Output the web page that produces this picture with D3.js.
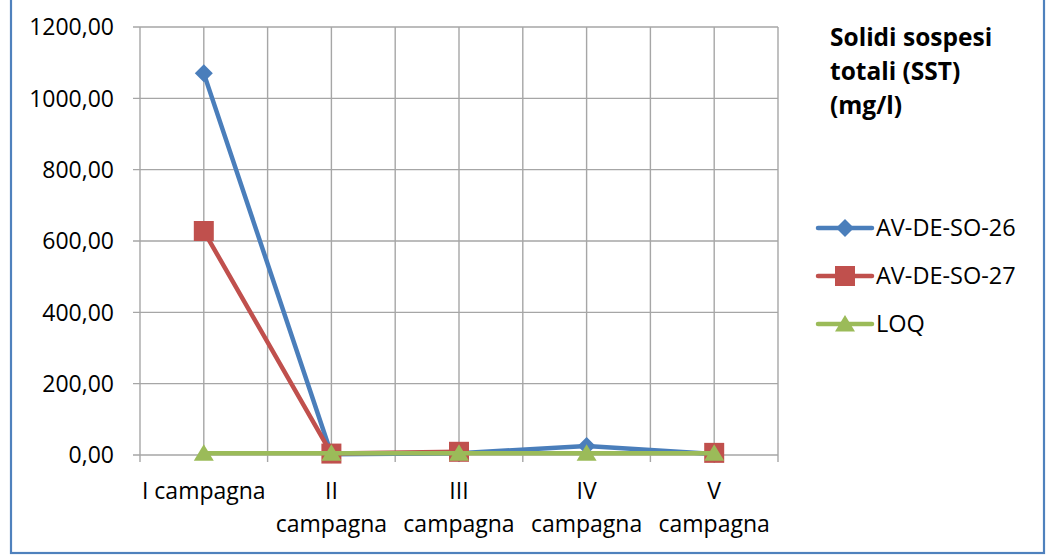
<!DOCTYPE html>
<html><head><meta charset="utf-8">
<script src="https://cdn.jsdelivr.net/npm/d3@7"></script>
<style>
html,body{margin:0;padding:0;background:#fff;}
svg{display:block;font-family:"Open Sans",sans-serif;}
</style></head>
<body>
<script>
const categories = ["I campagna", "II campagna", "III campagna", "IV campagna", "V campagna"];
const categoryLabelLines = [["I campagna"], ["II", "campagna"], ["III", "campagna"], ["IV", "campagna"], ["V", "campagna"]];
const seriesNames = ["AV-DE-SO-26", "AV-DE-SO-27", "LOQ"];
const so26 = [1070, 2, 5, 25, 3];
const so27 = [628, 4, 9, null, 6];
const loq = [5, 5, 5, 5, 5];
const yTicks = [0, 200, 400, 600, 800, 1000, 1200];
const titleLines = ["Solidi sospesi", "totali (SST)", "(mg/l)"];

const W = 1056, H = 556;
const colors = ["#4A7EBB", "#C0504D", "#9BBB59"];

// marker shapes
const markerPath = s => {
  if (s === 0) return "M0,-9L9,0L0,9L-9,0Z";            // diamond
  if (s === 1) return "M-10,-10H10V10H-10Z";            // square
  return "M0,-9L10,7.5L-10,7.5Z";                       // triangle
};

const svg = d3.select("body").append("svg").attr("width", W).attr("height", H);

// outer border
svg.append("rect").attr("x", 11).attr("y", -5).attr("width", 1033).attr("height", 558)
  .attr("fill", "none").attr("stroke", "#4F81BD").attr("stroke-width", 2.2);

const plot = {left: 140, right: 778, top: 27, bottom: 455};
const x = d3.scaleBand().domain(categories).range([plot.left, plot.right]);
const y = d3.scaleLinear().domain([0, 1200]).range([plot.bottom, plot.top]);

const grid = svg.append("g").attr("stroke", "#A6A6A6").attr("stroke-width", 1.4);
grid.selectAll("line.h").data(yTicks).join("line")
  .attr("x1", plot.left - 7).attr("x2", plot.right)
  .attr("y1", d => y(d)).attr("y2", d => y(d));
const bounds = categories.map(c => x(c)).concat([x(categories[categories.length - 1]) + x.bandwidth()]);
grid.selectAll("line.vb").data(bounds).join("line")
  .attr("x1", d => d).attr("x2", d => d)
  .attr("y1", plot.top).attr("y2", plot.bottom + 7);
grid.selectAll("line.vc").data(categories).join("line")
  .attr("x1", d => x(d) + x.bandwidth() / 2).attr("x2", d => x(d) + x.bandwidth() / 2)
  .attr("y1", plot.top).attr("y2", plot.bottom);

const fmt = v => d3.format(".2f")(v).replace(".", ",");
svg.append("g").selectAll("text").data(yTicks).join("text")
  .attr("x", 114).attr("y", d => y(d)).attr("dy", "0.36em")
  .attr("text-anchor", "end").attr("font-size", 23).attr("fill", "#000")
  .text(d => fmt(d));

const xl = svg.append("g");
categories.forEach((c, i) => {
  const t = xl.append("text").attr("text-anchor", "middle").attr("font-size", 23).attr("fill", "#000")
    .attr("x", x(c) + x.bandwidth() / 2);
  categoryLabelLines[i].forEach((ln, j) => {
    t.append("tspan").attr("x", x(c) + x.bandwidth() / 2).attr("y", 499 + j * 33).text(ln);
  });
});

const series = [so26, so27, loq];
const cx = i => x(categories[i]) + x.bandwidth() / 2;
series.forEach((vals, s) => {
  const line = d3.line().defined(d => d != null).x((d, i) => cx(i)).y(d => y(d));
  svg.append("path").datum(vals).attr("d", line).attr("fill", "none")
    .attr("stroke", colors[s]).attr("stroke-width", 4.5).attr("stroke-linejoin", "round");
  svg.append("g").selectAll("path").data(vals.map((v, i) => ({v, i})).filter(d => d.v != null)).join("path")
    .attr("d", markerPath(s))
    .attr("transform", d => `translate(${cx(d.i)},${y(d.v)})`)
    .attr("fill", colors[s]);
});

const tt = svg.append("text").attr("font-size", 24.5).attr("font-weight", "bold").attr("fill", "#000");
titleLines.forEach((ln, j) => tt.append("tspan").attr("x", 830).attr("y", 46 + j * 34).text(ln));

const legY = [228, 276, 324];
seriesNames.forEach((n, s) => {
  const g = svg.append("g");
  g.append("line").attr("x1", 818).attr("x2", 872).attr("y1", legY[s]).attr("y2", legY[s])
    .attr("stroke", colors[s]).attr("stroke-width", 4.5).attr("stroke-linecap", "round");
  g.append("path").attr("d", markerPath(s))
    .attr("transform", `translate(845,${legY[s]})`).attr("fill", colors[s]);
  g.append("text").attr("x", 876).attr("y", legY[s]).attr("dy", "0.36em")
    .attr("font-size", 23.5).attr("fill", "#000").text(n);
});
</script>
</body></html>
